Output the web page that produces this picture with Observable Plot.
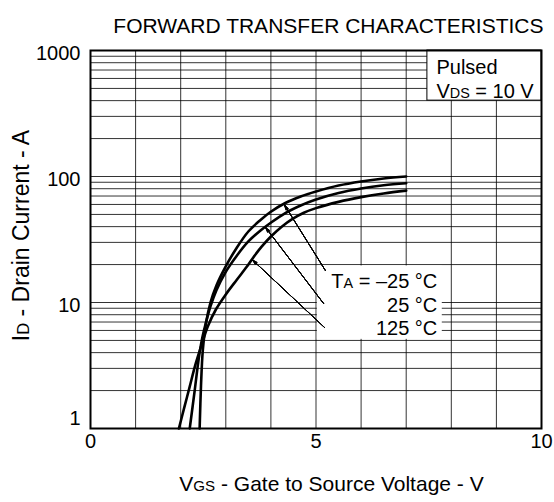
<!DOCTYPE html>
<html><head><meta charset="utf-8">
<script src="https://cdn.jsdelivr.net/npm/d3@7"></script>
<script src="https://cdn.jsdelivr.net/npm/@observablehq/plot@0.6"></script>
<style>body{margin:0;background:#fff}</style>
</head><body><div id="chart"></div>
<script>
// ---- data ----
const seriesNames = ["-25 °C", "25 °C", "125 °C"];
const vgsM25 = [2.42, 2.45, 2.49, 2.56, 2.66, 2.79, 2.99, 3.24, 3.5, 3.77, 3.99, 4.32, 4.66, 5, 5.5, 6, 6.5, 7];
const idM25  = [1, 2.19, 4.16, 6.81, 10, 13.6, 19.1, 27.1, 36.6, 45.2, 52.3, 61.6, 69.4, 76, 84.8, 91.3, 96.4, 100];
const vgs25  = [2.2, 2.31, 2.37, 2.42, 2.48, 2.56, 2.66, 2.79, 2.99, 3.24, 3.5, 3.77, 3.99, 4.32, 4.66, 5, 5.5, 6, 6.5, 7];
const id25   = [1, 2, 2.99, 4.01, 5.28, 6.94, 9.3, 12.45, 17.3, 23.4, 30.5, 37.3, 42.8, 51.3, 58.9, 65.7, 74, 80.3, 85.2, 88.5];
const vgs125 = [1.96, 2.08, 2.2, 2.32, 2.46, 2.6, 2.78, 3, 3.24, 3.46, 3.61, 3.79, 4, 4.24, 4.48, 4.73, 5, 5.5, 6, 6.5, 7];
const id125  = [1, 1.47, 2.15, 3.16, 4.56, 6.45, 8.8, 11.6, 15.1, 19.1, 22.8, 27.6, 33.4, 40, 46.1, 51.6, 56.1, 62.9, 68.6, 73.4, 77.3];

const xTicks = [0, 5, 10];
const yTicks = [1, 10, 100, 1000];
const xGrid = d3.range(0, 11, 1);
const yGrid = [1, 10, 100].flatMap(d => d3.range(1, 10).map(k => d * k)).concat([1000]);

// annotation arrows (label -> curve), in data units
const arrowX1 = [5.21, 5.17, 5.19];
const arrowY1 = [17.9, 9.8, 6.33];
const arrowX2 = [4.30, 3.88, 3.59];
const arrowY2 = [59.5, 39.5, 21.8];

const titleText = "FORWARD TRANSFER CHARACTERISTICS";
const xLabel = "V_{GS} - Gate to Source Voltage - V";
const yLabel = "I_{D} - Drain Current - A";
const tempLabels = ["T_{A} = –25 °C", "25 °C", "125 °C"];
const condLabels = ["Pulsed", "V_{DS} = 10 V"];

// ---- tables ----
const rows = [
  ...vgsM25.map((v, i) => ({series: seriesNames[0], vgs: v, id: idM25[i]})),
  ...vgs25.map((v, i) => ({series: seriesNames[1], vgs: v, id: id25[i]})),
  ...vgs125.map((v, i) => ({series: seriesNames[2], vgs: v, id: id125[i]}))
];
const arrows = arrowX1.map((x, i) => ({x1: x, y1: arrowY1[i], x2: arrowX2[i], y2: arrowY2[i]}));

const font = "'Liberation Sans', Arial, Helvetica, sans-serif";

const plot = Plot.plot({
  width: 554,
  height: 502,
  marginTop: 50,
  marginBottom: 74,
  marginLeft: 90,
  marginRight: 13,
  style: {fontFamily: font, fontSize: "20px", background: "#fff", color: "#000"},
  x: {domain: [0, 10]},
  y: {type: "log", domain: [1, 1000]},
  marks: [
    Plot.ruleY(yGrid, {stroke: "#000", strokeWidth: 1, strokeOpacity: 0.8}),
    Plot.ruleX(xGrid, {stroke: "#000", strokeWidth: 1, strokeOpacity: 0.8}),
    // white label boxes
    Plot.rect([0], {x1: 7.47, x2: 10, y1: 400, y2: 1000, fill: "#fff", stroke: "#000", strokeWidth: 1}),
    Plot.rect([0], {x1: 5.03, x2: 7.8, y1: 5.1, y2: 19.5, fill: "#fff"}),
    // curves
    Plot.line(rows, {x: "vgs", y: "id", z: "series", stroke: "#000", strokeWidth: 2.6, curve: "catmull-rom"}),
    // arrows (fan of heads to look filled)
    ...[0, 8, 16, 24, 32].map(a => Plot.arrow(arrows, {x1: "x1", y1: "y1", x2: "x2", y2: "y2", stroke: "#000", strokeWidth: 1, headLength: 8, headAngle: a})),
    // labels
    Plot.text([tempLabels[0]], {x: 7.69, y: 14.7, textAnchor: "end", fontSize: 20}),
    Plot.text([tempLabels[1]], {x: 7.69, y: 9.47, textAnchor: "end", fontSize: 20}),
    Plot.text([tempLabels[2]], {x: 7.69, y: 6.22, textAnchor: "end", fontSize: 20}),
    Plot.text([condLabels[0]], {x: 7.67, y: 738, textAnchor: "start", fontSize: 20}),
    Plot.text([condLabels[1]], {x: 7.67, y: 476, textAnchor: "start", fontSize: 20}),
    Plot.text([titleText], {frameAnchor: "top-right", textAnchor: "end", dx: 2, dy: -32.4, fontSize: 21}),
    Plot.text([xLabel], {frameAnchor: "bottom", textAnchor: "middle", dx: 15.5, dy: 62, fontSize: 21}),
    Plot.text([yLabel], {frameAnchor: "left", textAnchor: "middle", rotate: -90, dx: -68.5, dy: -4, fontSize: 23}),
    Plot.frame({stroke: "#000", strokeWidth: 2}),
    Plot.axisX(xTicks, {tickSize: 0, tickPadding: 5, fontSize: 20, label: null, tickFormat: d => String(d)}),
    Plot.axisY(yTicks.slice(1), {tickSize: 0, tickPadding: 10, fontSize: 20, dy: 3, label: null, tickFormat: d => String(d)}),
    Plot.axisY(yTicks.slice(0, 1), {tickSize: 0, tickPadding: 10, fontSize: 20, dy: -10, label: null, tickFormat: d => String(d)})
  ]
});

// subscripts: "_{...}" -> smaller tspan on the same baseline
d3.select(plot).selectAll("text").each(function () {
  const t = this.textContent;
  if (!t.includes("_{")) return;
  const parts = t.split(/(_\{[^}]*\})/).filter(s => s.length);
  const sel = d3.select(this);
  sel.text(null);
  for (const p of parts) {
    if (p.startsWith("_{")) sel.append("tspan").attr("font-size", "0.72em").text(p.slice(2, -1));
    else sel.append("tspan").text(p);
  }
});

document.getElementById("chart").appendChild(plot);
</script>
</body></html>
